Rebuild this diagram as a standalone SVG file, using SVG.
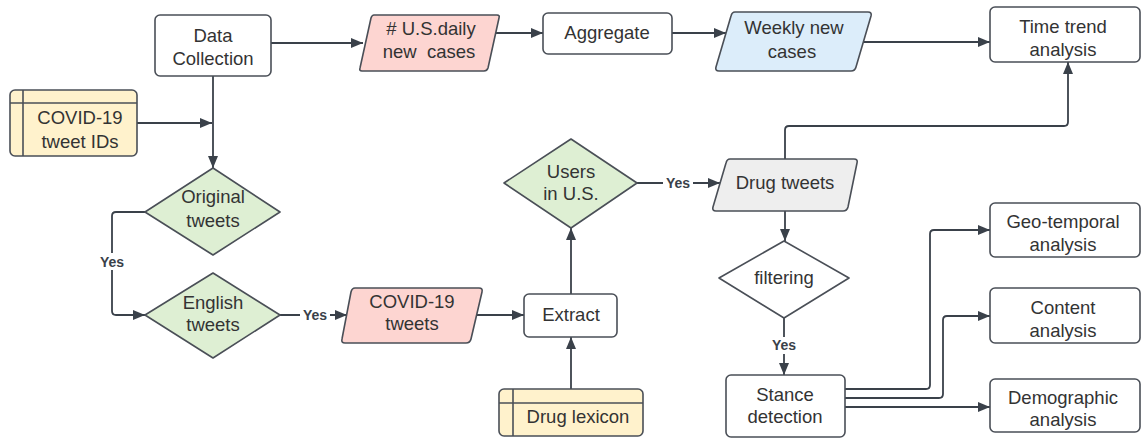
<svg xmlns="http://www.w3.org/2000/svg" width="1142" height="438" viewBox="0 0 1142 438">
<defs>
<marker id="ah" markerUnits="userSpaceOnUse" markerWidth="13" markerHeight="11" refX="12" refY="5" orient="auto">
<path d="M0,0 L12,5 L0,10 z" fill="#3a414a"/>
</marker>
<style>
.n{stroke:#4a4f57;stroke-width:1.6;}
.w{fill:#ffffff;}
.pk{fill:#fdd5d1;}
.bl{fill:#dcedfa;}
.gr{fill:#deefd3;}
.yl{fill:#fff2cc;}
.gy{fill:#eeeeee;}
.t{font-family:"Liberation Sans",Arial,sans-serif;font-size:18.5px;fill:#333333;text-anchor:middle;}
.y{font-family:"Liberation Sans",Arial,sans-serif;font-size:14px;font-weight:bold;fill:#3a414a;text-anchor:middle;}
.c{fill:none;stroke:#3a414a;stroke-width:1.8;}
.a{marker-end:url(#ah);}
</style>
</defs>
<rect width="1142" height="438" fill="#ffffff"/>
<g id="connectors">
<path class="c a" d="M213,76 V168"/>
<path class="c a" d="M137,123 H212"/>
<path class="c a" d="M271,43 H363"/>
<path class="c a" d="M495,33 H543"/>
<path class="c a" d="M672,33 H726"/>
<path class="c a" d="M863,42 H990"/>
<path class="c a" d="M785,159 V130 Q785,126 789,126 H1064 Q1068,126 1068,122 V62"/>
<path class="c a" d="M145,212 H116 Q112,212 112,216 V311 Q112,315 116,315 H145"/>
<path class="c a" d="M280,315 H347"/>
<path class="c a" d="M476,315 H524"/>
<path class="c a" d="M571,389 V337"/>
<path class="c a" d="M571,294 V228"/>
<path class="c a" d="M637,183 H720"/>
<path class="c a" d="M785,211 V241"/>
<path class="c a" d="M784,318 V375"/>
<path class="c a" d="M845,389 H926 Q930,389 930,385 V234 Q930,230 934,230 H990"/>
<path class="c a" d="M845,398 H939 Q943,398 943,394 V320 Q943,316 947,316 H990"/>
<path class="c a" d="M845,407 H990"/>
<rect x="97" y="253" width="30" height="17" fill="#ffffff"/>
<text class="y" x="112" y="267">Yes</text>
<rect x="300" y="307" width="30" height="17" fill="#ffffff"/>
<text class="y" x="315" y="320">Yes</text>
<rect x="663" y="175" width="30" height="17" fill="#ffffff"/>
<text class="y" x="678" y="188">Yes</text>
<rect x="769" y="337" width="30" height="17" fill="#ffffff"/>
<text class="y" x="784" y="350">Yes</text>
</g>
<g id="data-collection">
<rect class="n w" x="155" y="15" width="116" height="61" rx="5"/>
<text class="t" x="213" y="42">Data</text>
<text class="t" x="213" y="65">Collection</text>
</g>
<g id="covid-tweet-ids">
<rect class="n yl" x="10" y="90" width="127" height="66" rx="5"/>
<line class="n" x1="10" y1="103" x2="137" y2="103"/>
<line class="n" x1="23" y1="90" x2="23" y2="156"/>
<text class="t" x="80" y="124">COVID-19</text>
<text class="t" x="80" y="148">tweet IDs</text>
</g>
<g id="us-daily">
<path class="n pk" d="M374,15 H497 Q500,15 499,18 L488,68 Q487,71 484,71 H362 Q359,71 360,68 L371,18 Q372,15 374,15 z"/>
<text class="t" x="431" y="35"># U.S.daily</text>
<text class="t" x="429" y="58" xml:space="preserve">new  cases</text>
</g>
<g id="aggregate">
<rect class="n w" x="543" y="13" width="129" height="41" rx="5"/>
<text class="t" x="607" y="39">Aggregate</text>
</g>
<g id="weekly">
<path class="n bl" d="M735,12 H868 Q872,12 871,16 L856,67 Q855,71 851,71 H719 Q715,71 716,67 L731,16 Q732,12 735,12 z"/>
<text class="t" x="794" y="34">Weekly new</text>
<text class="t" x="792" y="58">cases</text>
</g>
<g id="time-trend">
<rect class="n w" x="990" y="7" width="150" height="55" rx="5"/>
<text class="t" x="1063" y="33">Time trend</text>
<text class="t" x="1063" y="56">analysis</text>
</g>
<g id="original-tweets">
<path class="n gr" d="M213,168 L280,212 L213,255 L145,212 z" stroke-linejoin="round"/>
<text class="t" x="213" y="203">Original</text>
<text class="t" x="213" y="227">tweets</text>
</g>
<g id="english-tweets">
<path class="n gr" d="M213,273 L280,315 L213,358 L145,315 z" stroke-linejoin="round"/>
<text class="t" x="213" y="309">English</text>
<text class="t" x="213" y="331">tweets</text>
</g>
<g id="covid-tweets">
<path class="n pk" d="M355,288 H479 Q483,288 482,292 L471,339 Q470,343 466,343 H345 Q341,343 342,339 L351,292 Q352,288 355,288 z"/>
<text class="t" x="412" y="308">COVID-19</text>
<text class="t" x="412" y="330">tweets</text>
</g>
<g id="extract">
<rect class="n w" x="524" y="294" width="93" height="43" rx="5"/>
<text class="t" x="571" y="321">Extract</text>
</g>
<g id="drug-lexicon">
<rect class="n yl" x="499" y="389" width="144" height="47" rx="5"/>
<line class="n" x1="499" y1="403" x2="643" y2="403"/>
<line class="n" x1="513" y1="389" x2="513" y2="436"/>
<text class="t" x="578" y="423">Drug lexicon</text>
</g>
<g id="users-us">
<path class="n gr" d="M571,139 L637,183 L571,228 L504,183 z" stroke-linejoin="round"/>
<text class="t" x="571" y="178">Users</text>
<text class="t" x="571" y="200">in U.S.</text>
</g>
<g id="drug-tweets">
<path class="n gy" d="M730,159 H854 Q858,159 857,163 L848,207 Q847,211 843,211 H716 Q712,211 713,207 L726,163 Q727,159 730,159 z"/>
<text class="t" x="785" y="189">Drug tweets</text>
</g>
<g id="filtering">
<path class="n w" d="M784,241 L849,278 L784,318 L719,278 z" stroke-linejoin="round"/>
<text class="t" x="784" y="284">filtering</text>
</g>
<g id="stance-detection">
<rect class="n w" x="726" y="375" width="119" height="62" rx="5"/>
<text class="t" x="785" y="401">Stance</text>
<text class="t" x="785" y="423">detection</text>
</g>
<g id="geo-temporal">
<rect class="n w" x="990" y="203" width="150" height="54" rx="5"/>
<text class="t" x="1063" y="228">Geo-temporal</text>
<text class="t" x="1063" y="251">analysis</text>
</g>
<g id="content">
<rect class="n w" x="990" y="288" width="150" height="55" rx="5"/>
<text class="t" x="1063" y="314">Content</text>
<text class="t" x="1063" y="337">analysis</text>
</g>
<g id="demographic">
<rect class="n w" x="990" y="379" width="150" height="53" rx="5"/>
<text class="t" x="1063" y="404">Demographic</text>
<text class="t" x="1063" y="426">analysis</text>
</g>
</svg>
